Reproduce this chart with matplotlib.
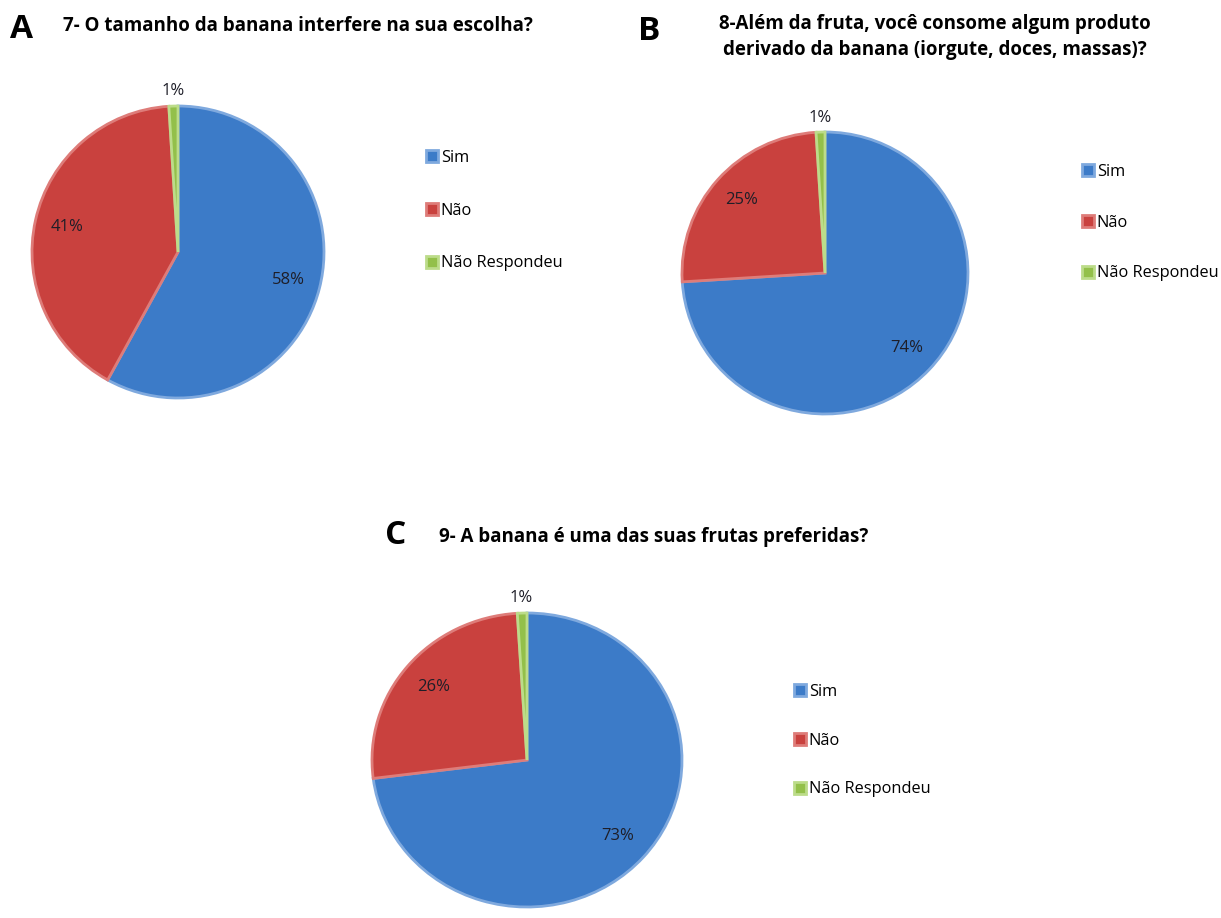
import matplotlib
matplotlib.use("Agg")
import matplotlib.pyplot as plt
import numpy as np

plt.rcParams['font.family'] = ['Open Sans', 'DejaVu Sans']

# categories and survey answers (%)
categories = ["Sim", "Não", "Não Respondeu"]
q7_values = [58, 41, 1]
q8_values = [74, 25, 1]
q9_values = [73, 26, 1]

q7_title = "7- O tamanho da banana interfere na sua escolha?"
q8_title = "8-Além da fruta, você consome algum produto\nderivado da banana (iorgute, doces, massas)?"
q9_title = "9- A banana é uma das suas frutas preferidas?"

colors = ["#3c7bc8", "#c9413e", "#93c04a"]
edge_colors = ["#7fa9de", "#de7c79", "#bcdc8a"]

W, H = 1221, 918
fig = plt.figure(figsize=(W / 100, H / 100), dpi=100)
fig.patch.set_facecolor("white")


def px_axes(cx, cy, rx, ry):
    # axes box from pixel centre/radius (top-left origin)
    return fig.add_axes([(cx - rx) / W, 1 - (cy + ry) / H, 2 * rx / W, 2 * ry / H])


def draw_pie(values, cx, cy, rx, ry, leg_x, leg_y, leg_space):
    ax = px_axes(cx, cy, rx, ry)
    wedges, _ = ax.pie(values, colors=colors, startangle=90, counterclock=False,
                       wedgeprops=dict(linewidth=2.0))
    for w, ec in zip(wedges, edge_colors):
        w.set_edgecolor(ec)
    ax.set_aspect("auto")
    ax.set_xlim(-1, 1)
    ax.set_ylim(-1, 1)
    ax.axis("off")

    # percentage labels from wedge geometry
    for w, v in zip(wedges, values):
        mid = np.deg2rad((w.theta1 + w.theta2) / 2)
        dist = 0.78 if v >= 5 else 1.1
        ax.text(dist * np.cos(mid), dist * np.sin(mid), f"{v}%",
                ha="center", va="center", fontsize=12, color="#1e1e28",
                clip_on=False)

    fig.legend(wedges, categories, loc="upper left",
               bbox_to_anchor=(leg_x / W, 1 - leg_y / H),
               frameon=False, fontsize=11.8, borderpad=0, borderaxespad=0,
               handlelength=0.75, handleheight=0.75, handletextpad=0.15,
               labelspacing=leg_space)
    return ax


draw_pie(q7_values, 178, 252, 146, 146, 426, 150, 2.24)
draw_pie(q8_values, 825, 273, 143, 141, 1082, 164, 2.12)
draw_pie(q9_values, 527, 760, 155, 147, 794, 684, 1.99)

# panel letters and titles
fig.text(22 / W, 1 - 30 / H, "A", fontsize=24, fontweight="bold", ha="center", va="center")
fig.text(649 / W, 1 - 31 / H, "B", fontsize=24, fontweight="bold", ha="center", va="center")
fig.text(396 / W, 1 - 535 / H, "C", fontsize=24, fontweight="bold", ha="center", va="center")

fig.text(63 / W, 1 - 26 / H, q7_title, fontsize=13.5, fontweight="bold", ha="left", va="center")
fig.text(935 / W, 1 - 37 / H, q8_title, fontsize=13.5, fontweight="bold", ha="center", va="center",
         multialignment="center", linespacing=1.36)
fig.text(439 / W, 1 - 537 / H, q9_title, fontsize=13.5, fontweight="bold", ha="left", va="center")

fig.savefig("out.png", dpi=100, facecolor="white")
